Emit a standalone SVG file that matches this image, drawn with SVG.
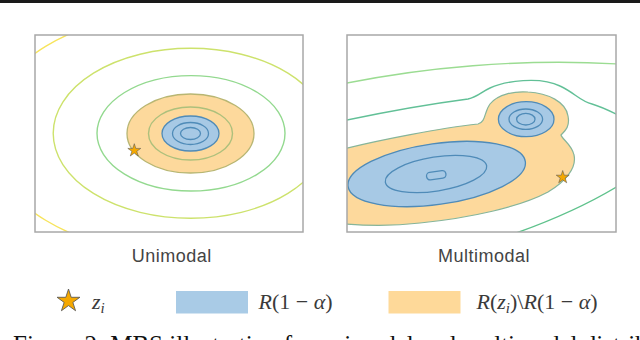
<svg xmlns="http://www.w3.org/2000/svg" width="640" height="340" viewBox="0 0 640 340">
<style>
.frame{fill:none;stroke:#a8a8a8;stroke-width:1.5}
.c{fill:none;stroke-width:1.4}
.blue{fill:#a7c9e5;stroke:#4f8bb8;stroke-width:1.3}
.bl{fill:none;stroke:#4f8bb8;stroke-width:1.3}
.orng{fill:#fdd99c}
.star{fill:#f5a800;stroke:#555;stroke-width:0.8}
.lbl{font-family:"Liberation Sans",Arial,sans-serif;font-size:18px;fill:#444;letter-spacing:0.5px}
.math{font-family:"Liberation Serif","Times New Roman",serif;font-size:22px;fill:#3a3a3a}
.it{font-style:italic}
</style>
<defs>
<clipPath id="cl"><rect x="35" y="35" width="268" height="197"/></clipPath>
<clipPath id="cr"><rect x="347" y="35" width="269" height="197"/></clipPath>
<polygon id="st" points="0,-10 2.245,-3.09 9.511,-3.09 3.633,1.18 5.878,8.09 0,3.82 -5.878,8.09 -3.633,1.18 -9.511,-3.09 -2.245,-3.09"/>
</defs>
<rect x="0" y="0" width="640" height="3" fill="#1a1a1a"/>

<g id="unimodal">
<g clip-path="url(#cl)">
<ellipse class="c" cx="190.7" cy="133.3" rx="204.6" ry="123.3" stroke="#f7e45c"/>
<ellipse class="c" cx="190.7" cy="133.3" rx="137.5" ry="85" stroke="#cde26c"/>
<ellipse class="c" cx="191" cy="133.3" rx="94" ry="57.7" stroke="#93d98f"/>
<ellipse cx="190.5" cy="133.5" rx="63.5" ry="39.5" fill="#fdd99c" stroke="#b8b672" stroke-width="1.3"/>
<ellipse class="c" cx="190.5" cy="133.5" rx="42" ry="26.5" stroke="#adc07c"/>
<ellipse class="blue" cx="190.5" cy="133.5" rx="28.5" ry="17.5"/>
<ellipse class="bl" cx="190.5" cy="133.5" rx="18" ry="11"/>
<ellipse class="bl" cx="190.5" cy="133.5" rx="10" ry="6"/>
</g>
<use href="#st" class="star" transform="translate(134.3,150.5) scale(0.68)"/>
<rect class="frame" x="35" y="35" width="268" height="197"/>
<text class="lbl" x="171.7" y="261.5" text-anchor="middle">Unimodal</text>
</g>

<g id="multimodal">
<g clip-path="url(#cr)">
<path class="c" stroke="#9bdc92" d="M345,83.5 C420,68 520,58 618,64"/>
<path class="c" stroke="#62c097" d="M345,120.5 C380,113 430,104 468,99 C478,97 481,92 490,88 C505,81 540,76 560,86 C575,93 580,101 592,104 C602,107 610,111 618,115"/>
<path class="c" stroke="#5fc28c" d="M516,233 Q575,212 618,186"/>
<path class="orng" stroke="#86b59a" stroke-width="1.2" d="M345,148.5 C380,140 440,128 478,124 C486,122 484,112 490,104 C498,94 515,91 528,92 C548,93 566,102 568,116 C570,126 566,130 561,135 C562,139 572,145 574,155 C577,168 565,182 548,192 C520,207 470,218 420,223 C395,226 370,226 345,224 Z"/>
<ellipse class="blue" cx="436.7" cy="174" rx="89.5" ry="30.5" transform="rotate(-8 436.7 174)"/>
<ellipse class="bl" cx="436" cy="174" rx="51.3" ry="17" transform="rotate(-9 436 174)"/>
<rect class="bl" x="426.5" y="171.5" width="19.5" height="7.5" rx="3.5" transform="rotate(-8 436.3 175.3)"/>
<ellipse class="blue" cx="526.2" cy="119.2" rx="27.8" ry="17.5"/>
<ellipse class="bl" cx="525.8" cy="119.2" rx="16.8" ry="10.2"/>
<ellipse class="bl" cx="525.8" cy="119.2" rx="9.2" ry="5.8"/>
</g>
<use href="#st" class="star" transform="translate(562.7,177.3) scale(0.68)"/>
<rect class="frame" x="347" y="35" width="269" height="197"/>
<text class="lbl" x="484" y="261.5" text-anchor="middle">Multimodal</text>
</g>

<g id="legend">
<use href="#st" class="star" transform="translate(68.5,301) scale(1.2)" style="stroke-width:0.7"/>
<text class="math" x="92" y="309" fill="#555"><tspan class="it">z</tspan><tspan class="it" font-size="15" dy="4">i</tspan></text>
<rect x="176" y="291" width="72" height="22.5" fill="#a9cbe6"/>
<text class="math" x="258.5" y="308.5"><tspan class="it">R</tspan>(1 − <tspan class="it">α</tspan>)</text>
<rect x="388.5" y="291" width="72" height="22.5" fill="#fed999"/>
<text class="math" x="476.5" y="308.5"><tspan class="it">R</tspan>(<tspan class="it">z</tspan><tspan class="it" font-size="15" dy="4">i</tspan><tspan dy="-4">)\</tspan><tspan class="it">R</tspan>(1 − <tspan class="it">α</tspan>)</text>
</g>

<text x="13" y="352.5" font-family="'Liberation Serif','Times New Roman',serif" font-size="25" fill="#111">Figure 2: MBS illustration for unimodal and multimodal distributions.</text>
</svg>
